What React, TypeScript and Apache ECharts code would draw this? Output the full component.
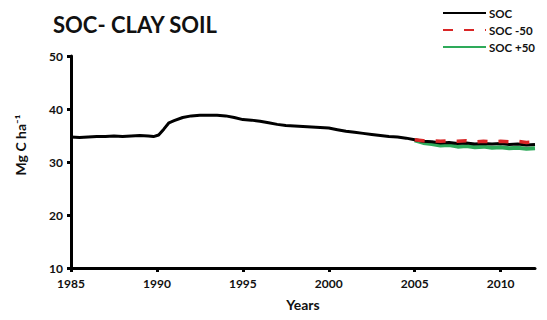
import React, { useEffect, useRef } from "react";
import * as echarts from "echarts";

const socYears = [
  1985.0, 1985.5, 1986.0, 1986.5, 1987.0, 1987.5, 1988.0, 1988.5, 1989.0, 1989.5, 1989.8,
  1990.1, 1990.4, 1990.7, 1991.0, 1991.5, 1992.0, 1992.5, 1993.0, 1993.5, 1994.0, 1994.5,
  1995.0, 1995.5, 1996.0, 1996.5, 1997.0, 1997.5, 1998.0, 1998.5, 1999.0, 1999.5, 2000.0,
  2000.5, 2001.0, 2001.5, 2002.0, 2002.5, 2003.0, 2003.5, 2004.0, 2004.5, 2005.0, 2005.5,
  2006.0, 2006.5, 2007.0, 2007.5, 2008.0, 2008.5, 2009.0, 2009.5, 2010.0, 2010.5, 2011.0,
  2011.5, 2012.0,
];
const socValues = [
  34.7, 34.6, 34.7, 34.8, 34.8, 34.9, 34.8, 34.9, 35.0, 34.9, 34.8,
  35.1, 36.2, 37.4, 37.8, 38.4, 38.7, 38.8, 38.8, 38.8, 38.7, 38.4,
  38.0, 37.9, 37.7, 37.4, 37.1, 36.9, 36.8, 36.7, 36.6, 36.5, 36.4,
  36.1, 35.8, 35.6, 35.4, 35.2, 35.0, 34.8, 34.7, 34.5, 34.2, 33.9,
  33.8, 33.6, 33.7, 33.5, 33.6, 33.4, 33.5, 33.4, 33.5, 33.3, 33.4,
  33.2, 33.3,
];
const scenarioYears = [
  2005.0, 2005.5, 2006.0, 2006.5, 2007.0, 2007.5, 2008.0, 2008.5, 2009.0, 2009.5, 2010.0,
  2010.5, 2011.0, 2011.5, 2012.0,
];
const socMinus50 = [34.2, 34.0, 34.0, 33.9, 34.0, 33.9, 34.0, 33.8, 33.9, 33.8, 33.9, 33.8, 33.9, 33.7, 33.8];
const socPlus50 = [34.1, 33.6, 33.4, 33.1, 33.2, 32.9, 33.0, 32.8, 32.9, 32.7, 32.8, 32.6, 32.7, 32.5, 32.6];
const xTicks = [1985, 1990, 1995, 2000, 2005, 2010];
const seriesNames = ["SOC", "SOC -50", "SOC +50"];

const pairs = (xs: number[], ys: number[]) => xs.map((x, i) => [x, ys[i]]);

const FONT = "Lato";

export default function App() {
  const ref = useRef<HTMLDivElement>(null);
  useEffect(() => {
    if (!ref.current) return;
    const chart = echarts.init(ref.current, null, { renderer: "svg" });
    chart.setOption({
      animation: false,
      backgroundColor: "#ffffff",
      title: {
        text: "SOC- CLAY SOIL",
        left: 48,
        top: 8,
        textStyle: { fontFamily: FONT, fontWeight: "bold", fontSize: 22, color: "#111" },
      },
      legend: {
        orient: "vertical",
        left: 442,
        top: 7,
        padding: 0,
        itemWidth: 43,
        itemHeight: 4,
        itemGap: 5,
        data: seriesNames,
        itemStyle: { opacity: 0 },
        textStyle: { fontFamily: FONT, fontWeight: "bold", fontSize: 11.5, color: "#111", padding: [0, 0, 0, -2] },
      },
      grid: { left: 71, right: 12, top: 56, bottom: 52 },
      xAxis: {
        type: "value",
        min: 1985,
        max: 2012,
        interval: 5,
        name: "Years",
        nameLocation: "middle",
        nameGap: 29,
        nameTextStyle: { fontFamily: FONT, fontWeight: "bold", fontSize: 14, color: "#111" },
        splitLine: { show: false },
        axisLine: { lineStyle: { color: "#000", width: 3 } },
        axisTick: { show: true, length: 4, lineStyle: { color: "#000", width: 3 }, customValues: xTicks },
        axisLabel: {
          customValues: xTicks,
          margin: 9,
          fontFamily: FONT,
          fontWeight: "bold",
          fontSize: 12,
          color: "#111",
          formatter: (v: number) => String(v),
        },
      },
      yAxis: {
        type: "value",
        min: 10,
        max: 50,
        interval: 10,
        name: "Mg C ha\u207B\u00B9",
        nameLocation: "middle",
        nameGap: 44,
        nameTextStyle: { fontFamily: FONT, fontWeight: "bold", fontSize: 14, color: "#111", padding: [0, 0, 0, 34] },
        splitLine: { show: false },
        axisLine: { show: true, lineStyle: { color: "#000", width: 3 } },
        axisTick: { show: true, length: 4, lineStyle: { color: "#000", width: 3 } },
        axisLabel: { margin: 8, fontFamily: FONT, fontWeight: "bold", fontSize: 12, color: "#111" },
      },
      series: [
        {
          name: seriesNames[0],
          type: "line",
          data: pairs(socYears, socValues),
          showSymbol: false,
          symbol: "none",
          z: 3,
          lineStyle: { color: "#000", width: 3 },
          itemStyle: { color: "#000" },
        },
        {
          name: seriesNames[1],
          type: "line",
          data: pairs(scenarioYears, socMinus50),
          showSymbol: false,
          symbol: "none",
          z: 4,
          lineStyle: { color: "#d92626", width: 3.5, type: [10, 11] },
          itemStyle: { color: "#d92626" },
        },
        {
          name: seriesNames[2],
          type: "line",
          data: pairs(scenarioYears, socPlus50),
          showSymbol: false,
          symbol: "none",
          z: 2,
          lineStyle: { color: "#2eaa5a", width: 4 },
          itemStyle: { color: "#2eaa5a" },
        },
      ],
    });
    return () => chart.dispose();
  }, []);
  return <div ref={ref} style={{ width: 547, height: 320, margin: -8 }} />;
}
